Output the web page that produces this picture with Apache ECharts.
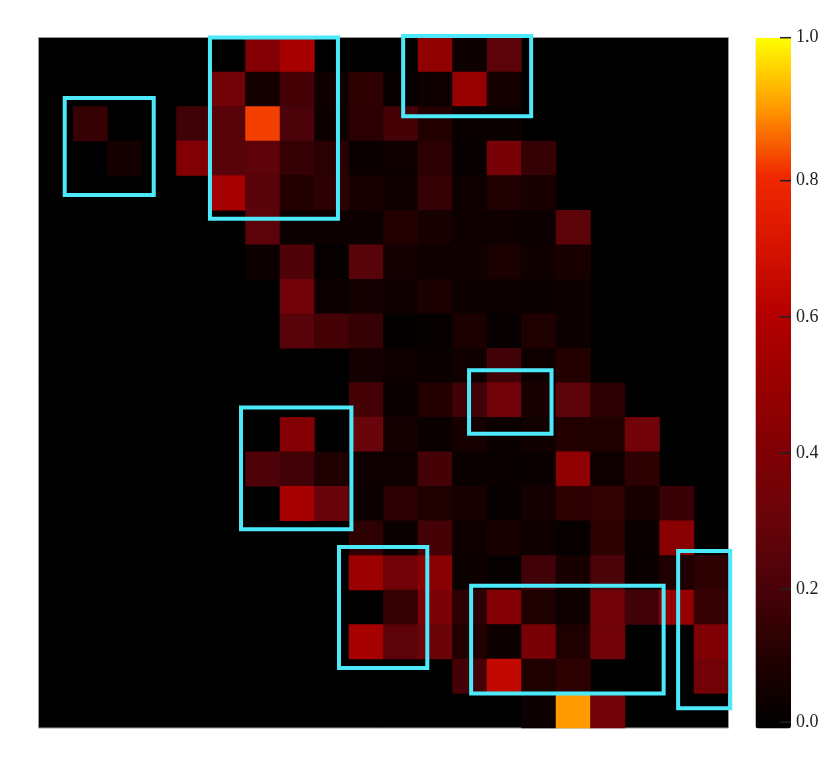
<!DOCTYPE html>
<html>
<head>
<meta charset="utf-8">
<style>
html,body{margin:0;padding:0;background:#fff}
#main{width:830px;height:767px}
</style>
<script src="https://cdn.jsdelivr.net/npm/echarts@6/dist/echarts.min.js"></script>
</head>
<body>
<div id="main"></div>
<script>
// cells: [col, row, value], only the non black ones
var cells = [
  [6,0,.41],[7,0,.55],[11,0,.47],[12,0,.035],[13,0,.26],
  [5,1,.34],[6,1,.06],[7,1,.19],[8,1,.05],[9,1,.13],[10,1,.02],[11,1,.04],[12,1,.49],[13,1,.06],
  [1,2,.15],[4,2,.18],[5,2,.25],[6,2,.82],[7,2,.21],[8,2,.04],[9,2,.12],[10,2,.19],[11,2,.1],[12,2,.03],[13,2,.03],
  [2,3,.06],[4,3,.41],[5,3,.25],[6,3,.27],[7,3,.15],[8,3,.12],[9,3,.03],[10,3,.04],[11,3,.12],[12,3,.02],[13,3,.37],[14,3,.15],
  [5,4,.55],[6,4,.25],[7,4,.1],[8,4,.13],[9,4,.07],[10,4,.04],[11,4,.15],[12,4,.04],[13,4,.09],[14,4,.07],
  [6,5,.26],[7,5,.035],[8,5,.035],[9,5,.035],[10,5,.1],[11,5,.065],[12,5,.04],[13,5,.04],[14,5,.035],[15,5,.26],
  [6,6,.035],[7,6,.22],[8,6,.02],[9,6,.25],[10,6,.06],[11,6,.04],[12,6,.05],[13,6,.08],[14,6,.05],[15,6,.07],
  [7,7,.34],[8,7,.035],[9,7,.06],[10,7,.04],[11,7,.08],[12,7,.035],[13,7,.035],[14,7,.03],[15,7,.035],
  [7,8,.25],[8,8,.19],[9,8,.15],[10,8,.015],[11,8,.02],[12,8,.08],[13,8,.02],[14,8,.09],[15,8,.035],
  [9,9,.06],[10,9,.04],[11,9,.03],[12,9,.05],[13,9,.18],[14,9,.04],[15,9,.1],
  [9,10,.19],[10,10,.03],[11,10,.1],[12,10,.18],[13,10,.34],[14,10,.07],[15,10,.26],[16,10,.12],
  [7,11,.41],[9,11,.3],[10,11,.06],[11,11,.03],[12,11,.065],[13,11,.03],[14,11,.05],[15,11,.1],[16,11,.09],[17,11,.34],
  [6,12,.22],[7,12,.18],[8,12,.09],[9,12,.04],[10,12,.04],[11,12,.19],[12,12,.03],[13,12,.03],[14,12,.03],[15,12,.46],[16,12,.04],[17,12,.13],
  [7,13,.55],[8,13,.3],[9,13,.035],[10,13,.12],[11,13,.09],[12,13,.07],[13,13,.02],[14,13,.06],[15,13,.13],[16,13,.14],[17,13,.065],[18,13,.16],
  [9,14,.13],[10,14,.03],[11,14,.19],[12,14,.04],[13,14,.07],[14,14,.04],[15,14,.02],[16,14,.13],[17,14,.03],[18,14,.44],
  [9,15,.51],[10,15,.34],[11,15,.44],[12,15,.035],[13,15,.02],[14,15,.18],[15,15,.07],[16,15,.21],[17,15,.03],[18,15,.09],[19,15,.13],
  [10,16,.15],[11,16,.38],[12,16,.13],[13,16,.41],[14,16,.09],[15,16,.04],[16,16,.34],[17,16,.18],[18,16,.49],[19,16,.15],
  [9,17,.55],[10,17,.26],[11,17,.31],[12,17,.1],[13,17,.035],[14,17,.37],[15,17,.09],[16,17,.34],[19,17,.4],
  [12,18,.19],[13,18,.64],[14,18,.09],[15,18,.13],[19,18,.34],
  [14,19,.035],[15,19,.9],[16,19,.34]
];
var cols = [0,1,2,3,4,5,6,7,8,9,10,11,12,13,14,15,16,17,18,19];
var rows = [0,1,2,3,4,5,6,7,8,9,10,11,12,13,14,15,16,17,18,19];
var barTicks = [0.005, 0.2, 0.4, 0.6, 0.8, 1.01];
// cyan boxes in cell units: [x0, y0, x1, y1]
var boxes = [
  [0.76,1.75,3.34,4.56],
  [4.97,0,8.68,5.25],
  [10.57,-0.04,14.28,2.28],
  [12.48,9.64,14.87,11.48],
  [5.87,10.72,9.07,14.24],
  [8.71,14.76,11.27,18.26],
  [12.54,15.88,18.12,19.0],
  [18.54,14.87,20.05,19.43]
];

var chart = echarts.init(document.getElementById('main'), null, {renderer:'canvas'});
chart.setOption({
  backgroundColor:'#fff',
  animation:false,
  grid:[
    {left:38.5, top:37.5, width:690, height:690.5, show:true, backgroundColor:'#000', borderWidth:1, borderColor:'#999'},
    {left:755.5, top:37.7, width:35.5, height:690.8, show:false}
  ],
  xAxis:[
    {type:'category', data:cols, gridIndex:0, show:false},
    {type:'value', min:0, max:20, gridIndex:0, show:false},
    {type:'value', min:0, max:1, gridIndex:1, show:false}
  ],
  yAxis:[
    {type:'category', data:rows, gridIndex:0, inverse:true, show:false},
    {type:'value', min:0, max:20, gridIndex:0, inverse:true, show:false},
    {type:'value', min:-0.0044, max:1.01, gridIndex:1, position:'right',
      axisLine:{show:false}, splitLine:{show:false}, axisTick:{show:false},
      axisLabel:{show:true, margin:5, color:'#222', fontFamily:'Liberation Serif', fontSize:18,
        customValues:barTicks, formatter:function(v){ return v.toFixed(1); }}}
  ],
  visualMap:{
    type:'continuous', min:0, max:1, show:true, seriesIndex:0, calculable:false, realtime:false, z:1,
    left:755.5, top:37.7, itemWidth:35.5, itemHeight:690.8, padding:0, text:null, showLabel:false,
    inRange:{color:['#000000','#220000','#480208','#68040a','#7f0004','#990000','#b40000','#d71400','#f02800','#ff9b00','#ffff00']}
  },
  series:[
    {type:'heatmap', xAxisIndex:0, yAxisIndex:0, data:cells, itemStyle:{borderWidth:0}, emphasis:{disabled:true}},
    {type:'custom', xAxisIndex:1, yAxisIndex:1, data:boxes, silent:true, z:5,
      encode:{x:[0,2], y:[1,3]}, clip:false,
      renderItem:function(params, api){
        var a = api.coord([api.value(0), api.value(1)]);
        var b = api.coord([api.value(2), api.value(3)]);
        return {type:'rect', shape:{x:a[0], y:a[1], width:b[0]-a[0], height:b[1]-a[1]},
          style:{fill:null, stroke:'#4ce9fb', lineWidth:4}};
      }},
    // colorbar ticks, drawn over the bar
    {type:'custom', xAxisIndex:2, yAxisIndex:2, data:barTicks, silent:true, z:6, clip:false,
      encode:{y:0},
      renderItem:function(params, api){
        var a = api.coord([0.69, api.value(0)]);
        var b = api.coord([1, api.value(0)]);
        return {type:'line', shape:{x1:a[0], y1:a[1], x2:b[0], y2:b[1]},
          style:{stroke:'#222', lineWidth:1.5}};
      }}
  ]
});
</script>
</body>
</html>
